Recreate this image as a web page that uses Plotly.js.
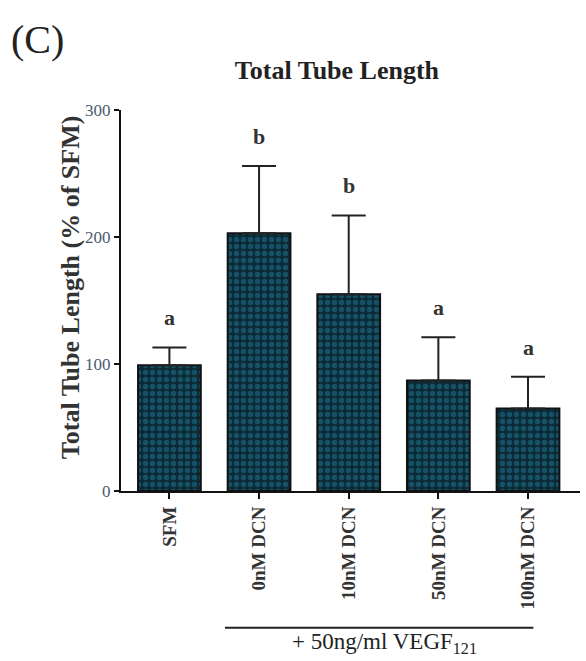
<!DOCTYPE html>
<html><head><meta charset="utf-8">
<script src="https://cdn.plot.ly/plotly-3.0.1.min.js"></script>
<style>html,body{margin:0;padding:0;background:#fff;}#chart{width:586px;height:661px;}</style>
</head><body><div id="chart"></div>
<script>
const categories = ["SFM", "0nM DCN", "10nM DCN", "50nM DCN", "100nM DCN"];
const means = [99, 203, 155, 87, 65];
const errPlus = [14, 53, 62, 34, 25];
const sigLetters = ["a", "b", "b", "a", "a"];
const yTicks = [0, 100, 200, 300];

const serif = "Liberation Serif, Times New Roman, serif";

const trace = {
  type: "bar",
  x: categories,
  y: means,
  width: 0.7,
  marker: {
    color: "#0b2a35",
    line: {color: "#111", width: 2},
    pattern: {shape: ".", bgcolor: "#0b2a35", fgcolor: "#1f7a9e", size: 7, solidity: 0.45, fillmode: "overlay"}
  },
  error_y: {type: "data", symmetric: false, array: errPlus, arrayminus: means.map(() => 0), color: "#222", thickness: 2, width: 17},
  hoverinfo: "none"
};

const annotations = categories.map((c, i) => ({
  x: c, y: means[i] + errPlus[i], xref: "x", yref: "y",
  text: "<b>" + sigLetters[i] + "</b>", showarrow: false, yanchor: "bottom", yshift: 15,
  font: {family: serif, size: 22, color: "#333"}
}));
annotations.push({
  xref: "paper", yref: "paper", x: -0.244, y: 1.184, xanchor: "left", yanchor: "middle",
  text: "(C)", showarrow: false, font: {family: serif, size: 40, color: "#222"}
});
annotations.push({
  xref: "paper", yref: "paper", x: -0.111, y: 0.535, xanchor: "center", yanchor: "middle",
  text: "<b>Total Tube Length (% of SFM)</b>", textangle: -90, showarrow: false,
  font: {family: serif, size: 26, color: "#333"}
});
annotations.push({
  xref: "x", yref: "paper", x: 2.4, y: -0.4, xanchor: "center", yanchor: "middle",
  text: "+ 50ng/ml VEGF<sub>121</sub>", showarrow: false, font: {family: serif, size: 23, color: "#222"}
});

const layout = {
  width: 586, height: 661,
  margin: {l: 121, r: 6, t: 110, b: 170},
  paper_bgcolor: "#fff", plot_bgcolor: "#fff",
  showlegend: false,
  title: {text: "<b>Total Tube Length</b>", x: 0.575, xanchor: "center", y: 0.894, yanchor: "middle",
          font: {family: serif, size: 26, color: "#222"}},
  xaxis: {
    type: "category", range: [-0.54, 4.58],
    showline: true, linecolor: "#111", linewidth: 2,
    ticks: "outside", ticklen: 6, tickwidth: 2, tickcolor: "#111",
    tickangle: -90, tickfont: {family: serif, size: 19, color: "#333", weight: "bold"},
    showgrid: false, zeroline: false, fixedrange: true
  },
  yaxis: {
    range: [0, 300], tickvals: yTicks,
    showline: true, linecolor: "#111", linewidth: 2,
    ticks: "outside", ticklen: 5, tickwidth: 2, tickcolor: "#111",
    tickfont: {family: serif, size: 17, color: "#4a5a70"},
    showgrid: false, zeroline: false
  },
  shapes: [{
    type: "line", xref: "x", yref: "paper", x0: 0.62, x1: 4.06, y0: -0.359, y1: -0.359,
    line: {color: "#222", width: 2}
  }],
  annotations: annotations,
  bargap: 0.3
};

Plotly.newPlot("chart", [trace], layout, {staticPlot: true, displayModeBar: false});
</script>
</body></html>
